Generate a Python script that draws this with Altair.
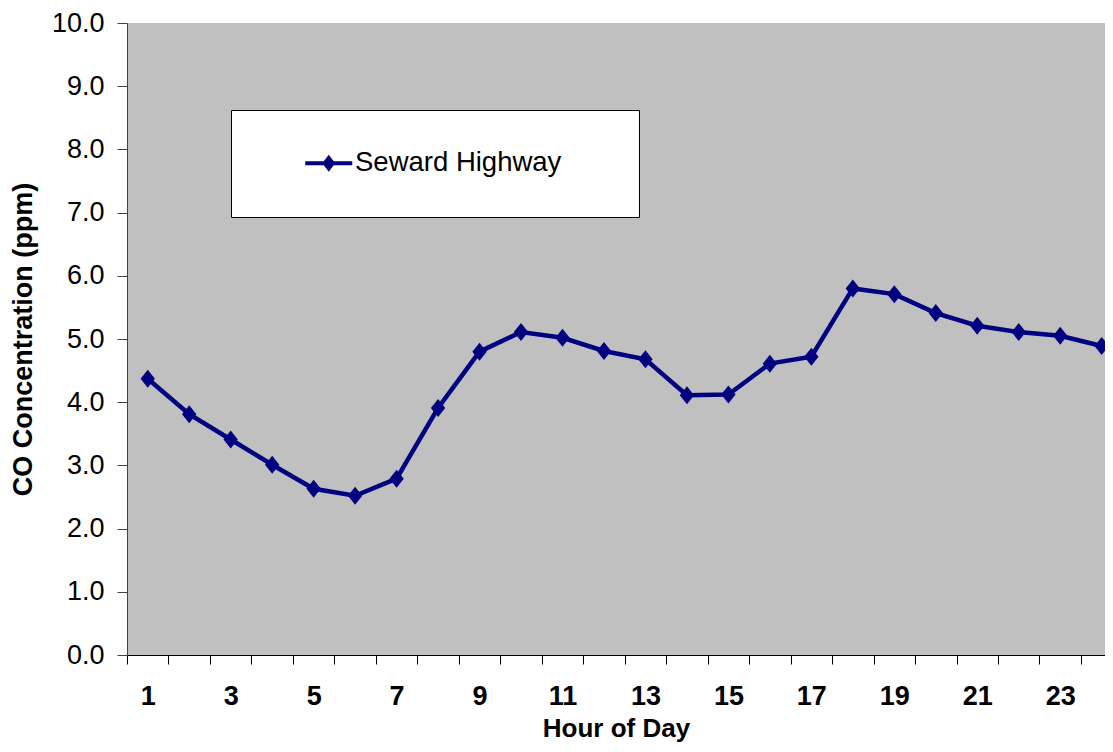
import altair as alt
import pandas as pd

# ---- data ----
hours = list(range(1, 25))
co_ppm = [4.37, 3.81, 3.41, 3.01, 2.63, 2.52, 2.79, 3.91, 4.80, 5.11, 5.02, 4.81,
          4.68, 4.11, 4.12, 4.61, 4.72, 5.80, 5.71, 5.41, 5.21, 5.11, 5.05, 4.89]
series_name = "Seward Highway"
x_tick_values = [h - 0.5 for h in hours]          # category boundaries (ticks)
x_label_values = [h for h in hours if h % 2 == 1]  # labelled hours
y_tick_values = list(range(0, 11))

df = pd.DataFrame({"hour": hours, "co": co_ppm, "series": [series_name] * len(hours)})

FONT = "Liberation Sans"
NAVY = "#000080"
DIAMOND = "M0,-1L0.8,0L0,1L-0.8,0Z"
LEGEND_SYMBOL = ("M-1.74,-0.15H1.74V0.15H-1.74Z "
                 "M0,-0.63L0.48,0L0,0.63L-0.48,0Z M20,0")

x_enc = alt.X(
    "hour:Q",
    scale=alt.Scale(domain=[0.5, 24.08], nice=False, zero=False),
    axis=alt.Axis(
        title="Hour of Day",
        values=sorted(x_tick_values + x_label_values),
        tickOpacity={"condition": {"test": "datum.value % 1 == 0", "value": 0}, "value": 1},
        labelExpr="datum.value % 2 == 1 ? format(datum.value, 'd') : ''",
        labelOverlap=False,
        labelFlush=False,
        grid=False,
        tickSize=9,
        labelPadding=19,
        titlePadding=6,
        titleFontSize=26,
        labelFontWeight="bold",
        domainColor="black",
        tickColor="black",
    ),
)
y_enc = alt.Y(
    "co:Q",
    scale=alt.Scale(domain=[0, 10], nice=False),
    axis=alt.Axis(
        title="CO Concentration (ppm)",
        values=y_tick_values,
        format=".1f",
        labelOverlap=False,
        labelFlush=False,
        grid=False,
        tickSize=10,
        labelPadding=13,
        titlePadding=14,
        labelFontWeight="normal",
        domainColor="#404040",
        tickColor="#404040",
    ),
)

line = alt.Chart(df).mark_line(color=NAVY, strokeWidth=4.5).encode(x=x_enc, y=y_enc)

points = alt.Chart(df).mark_point(
    filled=True, shape=DIAMOND, size=324, opacity=1, strokeWidth=0
).encode(
    x=x_enc,
    y=y_enc,
    color=alt.Color(
        "series:N",
        scale=alt.Scale(range=[NAVY]),
        legend=alt.Legend(
            title=None,
            orient="none",
            legendX=104,
            legendY=87,
            fillColor="white",
            strokeColor="black",
            padding=39.5,
            symbolType=LEGEND_SYMBOL,
            symbolSize=729,
            symbolStrokeWidth=0,
            symbolOpacity=1,
            symbolOffset=44.5,
            labelOffset=12.5,
            labelFont=FONT,
            labelFontSize=27.5,
            labelColor="black",
            labelLimit=500,
        ),
    ),
)

chart = (
    alt.layer(line, points)
    .properties(
        width=978,
        height=632,
        autosize=alt.AutoSizeParams(type="none"),
        padding={"left": 119, "top": 15, "right": 0, "bottom": 89},
        background="white",
    )
    .configure_view(fill="#C0C0C0", stroke=None)
    .configure_axis(
        labelFont=FONT,
        titleFont=FONT,
        labelFontSize=27,
        titleFontSize=27,
        titleFontWeight="bold",
        labelColor="black",
        titleColor="black",
        domainWidth=1,
        tickWidth=1,
    )
    .configure_legend(strokeWidth=1)
)

chart.save("out.html", embed_options={"renderer": "svg", "actions": False})
